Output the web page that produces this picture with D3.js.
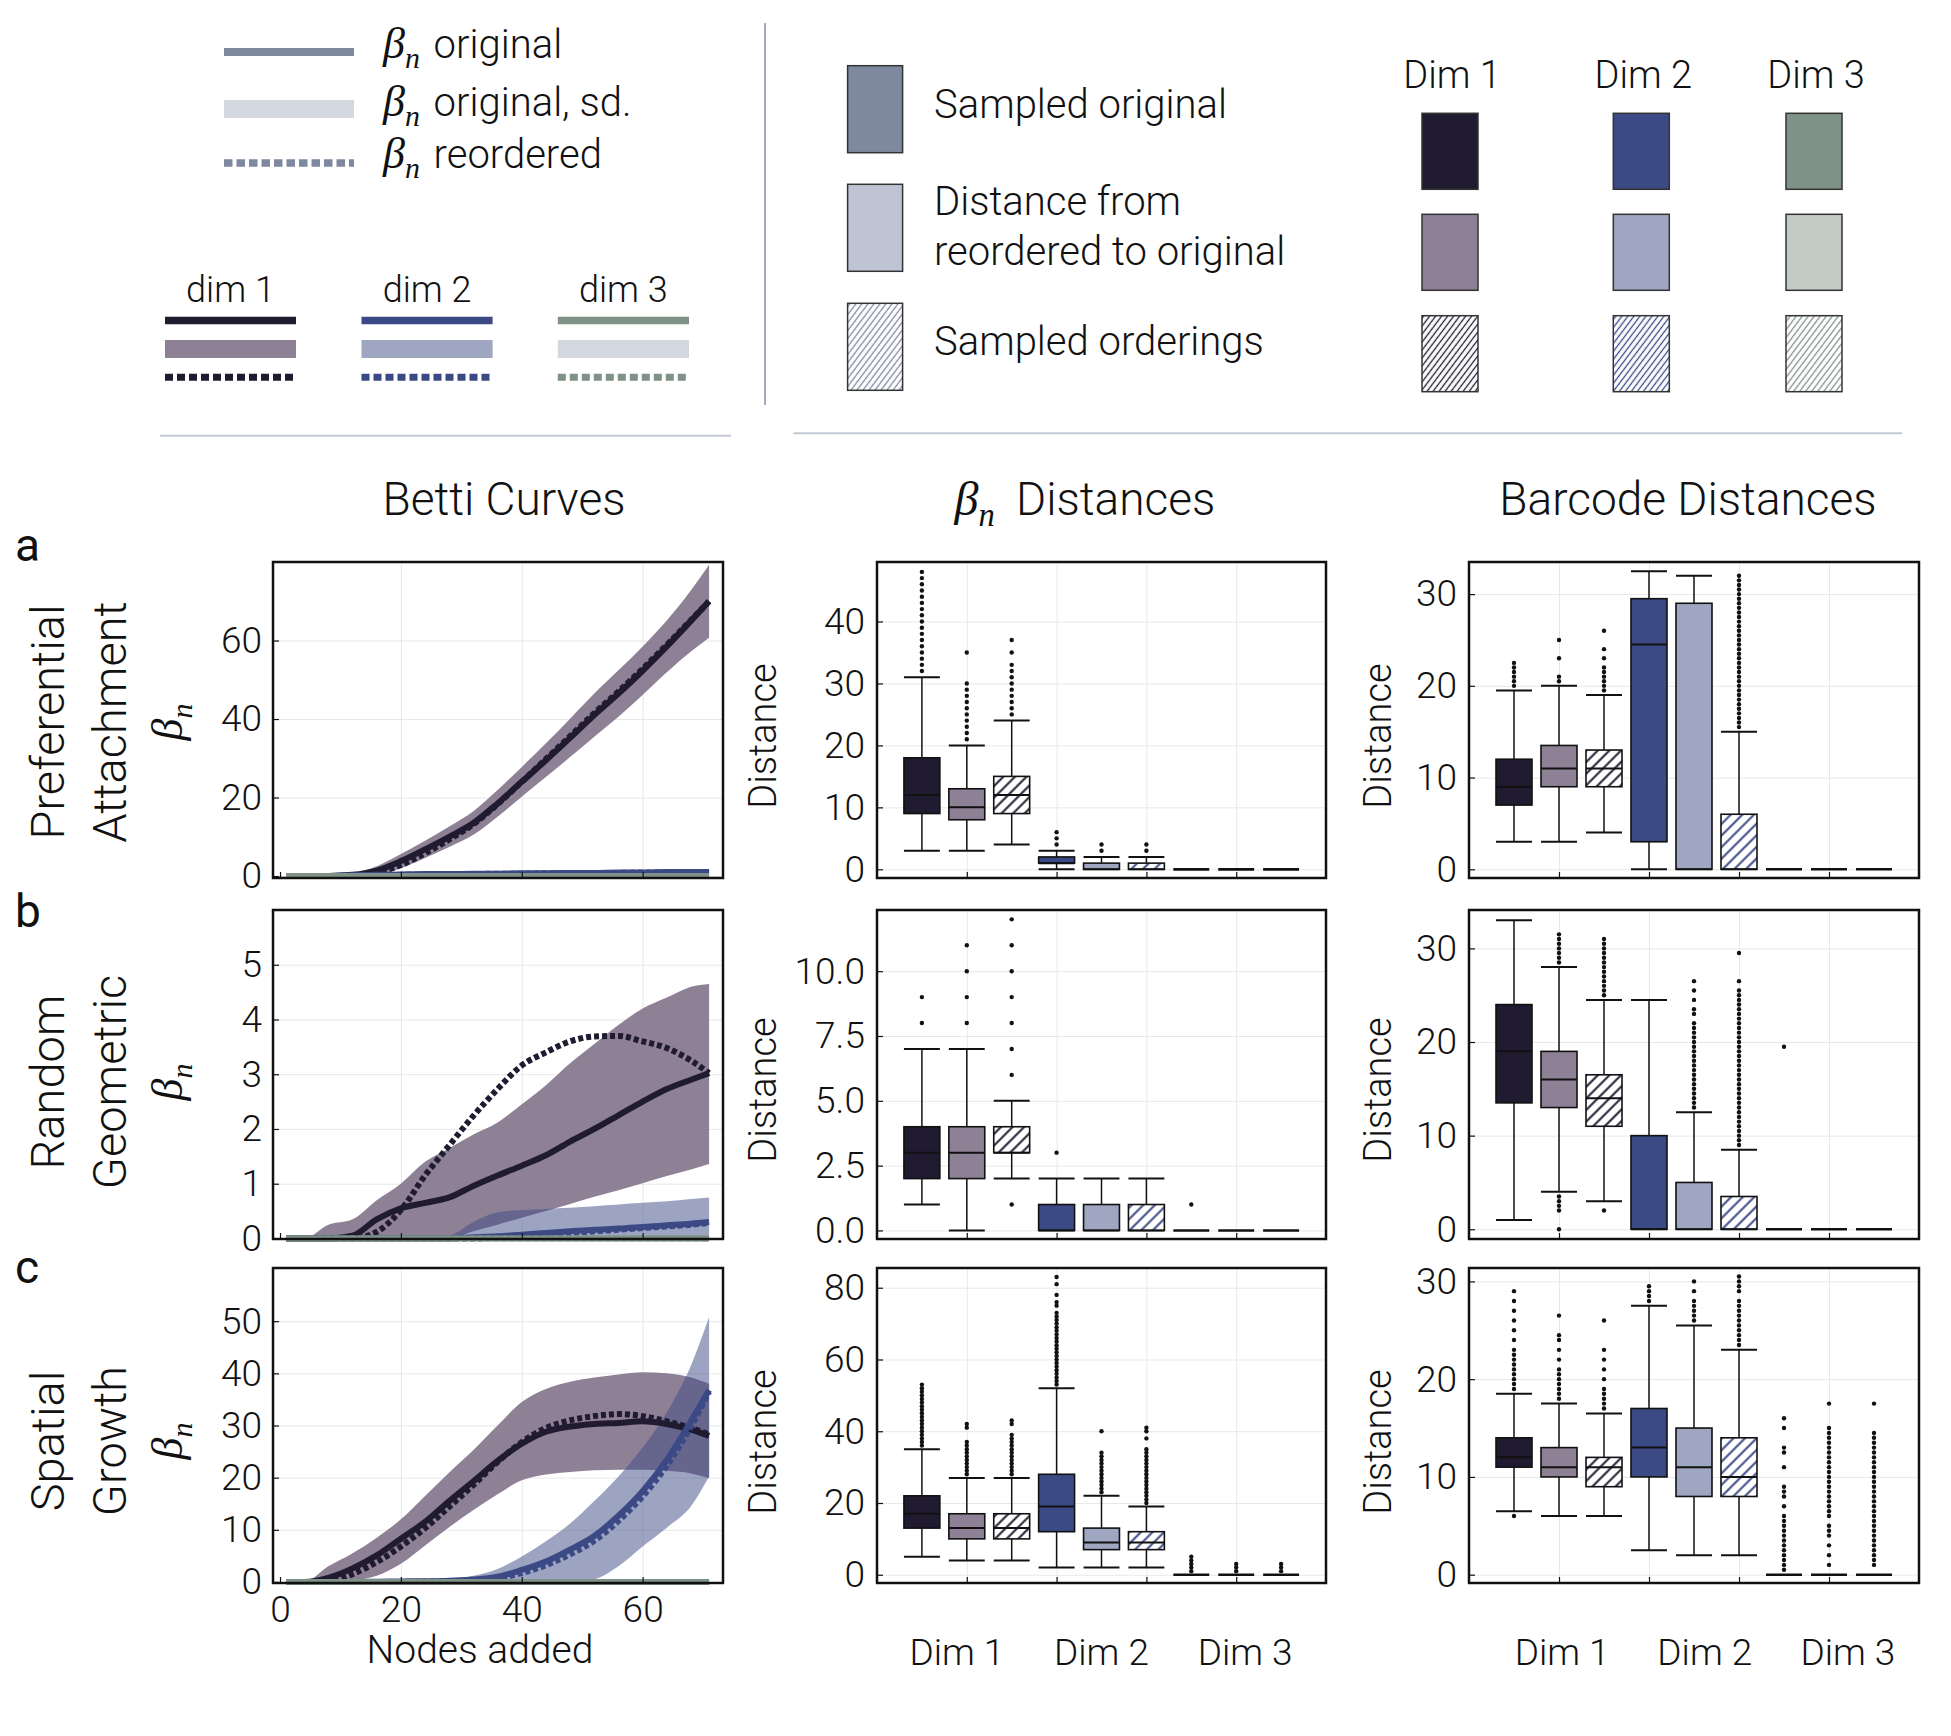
<!DOCTYPE html>
<html>
<head>
<meta charset="UTF-8">
<title>Betti curves and distances</title>
<style>
  body { margin: 0; background: #fff; }
  svg text { font-family: Roboto, 'Liberation Sans', sans-serif; font-weight: 300; fill: #111; }
  .math { font-family: 'Liberation Serif', 'DejaVu Serif', serif; font-style: italic; font-weight: 400; }
  .grid line { stroke: #e8e8e8; stroke-width: 1; }
  .grid .domain, .tick-axis .domain { display: none; }
  .tick-axis line { stroke: #111; stroke-width: 1.2; }
  .frame { fill: none; stroke: #111; stroke-width: 2.5; }
  svg text.letter { font-weight: 400; }
</style>
</head>
<body>
<script src="https://d3js.org/d3.v7.min.js"></script>
<script>
// colours per homology dimension
var dimDark  = ["#201b30", "#3b4a85", "#7f9287"];
var dimLight = ["#8e8196", "#9ea6c1", "#c3cbc6"];
var bandFill = ["#8e8196", "#3b4a85", "#c3cbc6"];
var bandOpacity = [1, 0.5, 0.8];
var sdLegend = ["#8e8196", "#9ea6c1", "#d3d7df"];
var greyBlue = "#7e889f";

var dimNames = ["dim 1", "dim 2", "dim 3"];
var dimTitles = ["Dim 1", "Dim 2", "Dim 3"];
var rowLetters = ["a", "b", "c"];
var rowNames = [["Preferential", "Attachment"], ["Random", "Geometric"], ["Spatial", "Growth"]];

/// Betti curves (x = nodes added)
var nodes = [1, 4, 8, 12, 16, 20, 24, 28, 32, 36, 40, 44, 48, 52, 56, 60, 64, 68, 71];
var zeroCurve = [0, 0, 0, 0, 0, 0, 0, 0, 0, 0, 0, 0, 0, 0, 0, 0, 0, 0, 0];

// a: preferential attachment
var a1Mean  = [0, 0, 0, 0.3, 1.4, 3.8, 6.8, 10, 13.5, 18.5, 24, 29.5, 35.2, 41, 46.5, 52.3, 58.5, 65, 70];
var a1Lo    = [0, 0, 0, 0, 0.3, 2, 4.6, 7.4, 10.5, 15.1, 20.2, 25.2, 30.3, 35.5, 40.6, 46.1, 51.9, 57.2, 60.7];
var a1Hi    = [0, 0, 0, 0.7, 2.5, 5.6, 9, 12.6, 16.5, 21.9, 27.8, 33.8, 40.1, 46.5, 52.4, 58.5, 65.1, 72.8, 79.3];
var a1Reord = [0, 0, 0, 0, 0.8, 2.8, 5.8, 9.3, 13.2, 18.3, 24, 29.8, 35.6, 41.5, 47, 52.8, 58.9, 65.2, 70];
var a2Mean  = [0, 0, 0, 0.2, 0.3, 0.4, 0.5, 0.5, 0.6, 0.6, 0.7, 0.7, 0.8, 0.8, 0.9, 0.9, 1.0, 1.0, 1.0];
var a2Lo    = [0, 0, 0, 0, 0, 0, 0, 0, 0.1, 0.1, 0.2, 0.2, 0.3, 0.3, 0.3, 0.4, 0.4, 0.4, 0.4];
var a2Hi    = [0, 0, 0, 0.5, 0.7, 0.8, 0.9, 1.0, 1.1, 1.1, 1.2, 1.2, 1.3, 1.3, 1.4, 1.4, 1.5, 1.5, 1.5];
var a2Reord = [0, 0, 0, 0.1, 0.2, 0.3, 0.4, 0.5, 0.5, 0.6, 0.6, 0.7, 0.7, 0.8, 0.8, 0.9, 0.9, 1.0, 1.0];

// b: random geometric
var b1Mean  = [0, 0, 0, 0.05, 0.35, 0.55, 0.65, 0.75, 0.96, 1.15, 1.33, 1.52, 1.77, 2.0, 2.25, 2.5, 2.73, 2.9, 3.02];
var b1Lo    = [0, 0, 0, 0, 0, 0, 0, 0, 0.13, 0.25, 0.38, 0.5, 0.63, 0.76, 0.88, 1.01, 1.14, 1.26, 1.36];
var b1Hi    = [0, 0, 0.25, 0.35, 0.7, 1.0, 1.4, 1.65, 1.9, 2.12, 2.45, 2.8, 3.2, 3.55, 3.9, 4.2, 4.4, 4.6, 4.65];
var b1Reord = [0, 0, 0, 0, 0.12, 0.52, 1.15, 1.7, 2.24, 2.73, 3.16, 3.4, 3.6, 3.69, 3.7, 3.6, 3.48, 3.25, 3.02];
var b2Mean  = [0, 0, 0, 0, 0, 0, 0, 0, 0.02, 0.04, 0.07, 0.1, 0.13, 0.16, 0.18, 0.21, 0.24, 0.27, 0.3];
var b2Hi    = [0, 0, 0, 0, 0, 0, 0, 0.05, 0.3, 0.48, 0.52, 0.54, 0.56, 0.59, 0.62, 0.65, 0.68, 0.72, 0.75];
var b2Reord = [0, 0, 0, 0, 0, 0, 0, 0, 0, 0.02, 0.04, 0.07, 0.1, 0.13, 0.16, 0.19, 0.22, 0.25, 0.28];

// c: spatial growth
var c1Mean  = [0, 0, 0.8, 2.6, 5.1, 8.3, 11.5, 15.5, 19.3, 23.2, 26.5, 28.8, 29.8, 30.3, 30.5, 30.8, 30.3, 29.2, 28];
var c1Lo    = [0, 0, 0, 0.3, 1.2, 3.5, 7, 10.5, 13.8, 16.8, 19.5, 20.6, 21.1, 21.4, 21.5, 21.5, 21.3, 20.8, 19.9];
var c1Hi    = [0, 0, 3.0, 5.5, 8.5, 12, 16.5, 21, 25.3, 30, 34.5, 37, 38.4, 39.2, 39.8, 40.2, 40, 39.2, 38];
var c1Reord = [0, 0, 0.1, 1.5, 3.8, 6.8, 10.3, 14.4, 18.6, 23, 26.8, 29.5, 31, 31.8, 32.2, 31.8, 30.8, 29.5, 28.3];
var c2Mean  = [0, 0, 0, 0, 0.05, 0.1, 0.15, 0.25, 0.45, 1.0, 2.3, 3.9, 6.2, 8.8, 12.7, 17.4, 23.4, 30.8, 36.8];
var c2Lo    = [0, 0, 0, 0, 0, 0, 0, 0, 0, 0, 0, 0, 0, 0.5, 3, 6.8, 10.4, 14.5, 20.2];
var c2Hi    = [0, 0, 0, 0, 0.1, 0.2, 0.3, 0.5, 1.2, 2.5, 4.9, 7.8, 11.2, 15.5, 20.2, 25.8, 32.5, 41.5, 50.8];
var c2Reord = [0, 0, 0, 0, 0, 0, 0.05, 0.15, 0.3, 0.7, 1.7, 3.2, 5.3, 7.9, 11.7, 16.4, 22.3, 29.8, 36.5];

var bettiYDomain = [[-0.5, 80], [-0.01, 6], [-0.2, 60.2]];
var bettiYTicks = [[0, 20, 40, 60], [0, 1, 2, 3, 4, 5], [0, 10, 20, 30, 40, 50]];
var bettiXTicks = [0, 20, 40, 60];
var nodeDomain = [-1.16, 73.3];

/// box plots: [lower whisker, q1, median, q3, upper whisker], 9 boxes (3 per dim)
var betaStatsA = [[3, 9, 12, 18, 31], [3, 8, 10, 13, 20], [4, 9, 12, 15, 24], [0, 1, 1, 2, 3], [0, 0, 0, 1, 2], [0, 0, 0, 1, 2], [0, 0, 0, 0, 0], [0, 0, 0, 0, 0], [0, 0, 0, 0, 0]];
var betaOutA = [
  [32, 33, 34, 35, 36, 37, 38, 39, 40, 41, 42, 43, 44, 45, 46, 47, 48],
  [21, 22, 23, 24, 25, 26, 27, 28, 29, 30, 35],
  [25, 26, 27, 28, 29, 30, 31, 32, 33, 35, 37],
  [4, 5, 6], [3, 4], [3, 4], [], [], []];
var betaStatsB = [[1, 2, 3, 4, 7], [0, 2, 3, 4, 7], [2, 3, 3, 4, 5], [0, 0, 0, 1, 2], [0, 0, 0, 1, 2], [0, 0, 0, 1, 2], [0, 0, 0, 0, 0], [0, 0, 0, 0, 0], [0, 0, 0, 0, 0]];
var betaOutB = [[8, 9], [8, 9, 10, 11], [1, 6, 7, 8, 9, 10, 11, 12], [3], [], [], [1], [], []];
var betaStatsC = [[5, 13, 17, 22, 35], [4, 10, 13, 17, 27], [4, 10, 13, 17, 27], [2, 12, 19, 28, 52], [2, 7, 9, 13, 22], [2, 7, 9, 12, 19], [0, 0, 0, 0, 0], [0, 0, 0, 0, 0], [0, 0, 0, 0, 0]];
var betaOutC = [
  [36, 37, 38, 39, 40, 41, 42, 43, 44, 45, 46, 47, 48, 49, 50, 51, 52, 53],
  [28, 29, 30, 31, 32, 33, 34, 35, 36, 37, 41, 42],
  [28, 29, 30, 31, 32, 33, 34, 35, 36, 37, 38, 39, 42, 43],
  [53, 54, 55, 56, 57, 58, 59, 60, 61, 62, 63, 64, 65, 66, 67, 68, 69, 70, 71, 72, 73, 75, 76, 78, 81, 83],
  [23, 24, 25, 26, 27, 28, 29, 30, 31, 32, 33, 34, 40],
  [20, 21, 22, 23, 24, 25, 26, 27, 28, 29, 30, 31, 32, 33, 34, 35, 38, 40, 41],
  [1, 2, 3, 4, 5], [1, 2, 3], [1, 2, 3]];

var barStatsA = [[3, 7, 9, 12, 19.5], [3, 9, 11, 13.5, 20], [4, 9, 11, 13, 19], [0, 3, 24.5, 29.5, 32.5], [0, 0, 0, 29, 32], [0, 0, 0, 6, 15], [0, 0, 0, 0, 0], [0, 0, 0, 0, 0], [0, 0, 0, 0, 0]];
var barOutA = [
  [20, 20.5, 21, 21.5, 22, 22.5],
  [20.5, 21, 23, 25],
  [19.5, 20, 20.5, 21, 21.5, 22, 23, 24, 26],
  [], [],
  [15.5, 16, 16.5, 17, 17.5, 18, 18.5, 19, 19.5, 20, 20.5, 21, 21.5, 22, 22.5, 23, 23.5, 24, 24.5, 25, 25.5, 26, 26.5, 27, 27.5, 28, 28.5, 29, 29.5, 30, 30.5, 31, 31.5, 32],
  [], [], []];
var barStatsB = [[1, 13.5, 19, 24, 33], [4, 13, 16, 19, 28], [3, 11, 14, 16.5, 24.5], [0, 0, 0, 10, 24.5], [0, 0, 0, 5, 12.5], [0, 0, 0, 3.5, 8.5], [0, 0, 0, 0, 0], [0, 0, 0, 0, 0], [0, 0, 0, 0, 0]];
var barOutB = [
  [],
  [28.5, 29, 29.5, 30, 30.5, 31, 31.5, 3.5, 3, 2.5, 2, 0],
  [25, 25.5, 26, 26.5, 27, 27.5, 28, 28.5, 29, 29.5, 30, 30.5, 31, 2],
  [],
  [13, 13.5, 14, 14.5, 15, 15.5, 16, 16.5, 17, 17.5, 18, 18.5, 19, 19.5, 20, 20.5, 21, 21.5, 22, 23, 23.5, 24.5, 25.5, 26.5],
  [9, 9.5, 10, 10.5, 11, 11.5, 12, 12.5, 13, 13.5, 14, 14.5, 15, 15.5, 16, 16.5, 17, 17.5, 18, 18.5, 19, 19.5, 20, 20.5, 21, 21.5, 22, 22.5, 23, 23.5, 24, 24.5, 25, 25.5, 26.5, 29.5],
  [19.5], [], []];
var barStatsC = [[6.5, 11, 12, 14, 18.5], [6, 10, 11, 13, 17.5], [6, 9, 11, 12, 16.5], [2.5, 10, 13, 17, 27.5], [2, 8, 11, 15, 25.5], [2, 8, 10, 14, 23], [0, 0, 0, 0, 0], [0, 0, 0, 0, 0], [0, 0, 0, 0, 0]];
var barOutC = [
  [19, 19.5, 20, 20.5, 21, 21.5, 22, 22.5, 23, 24, 25, 26, 27, 28, 29, 6],
  [18, 18.5, 19, 19.5, 20, 20.5, 21, 22, 23, 24, 24.5, 26.5],
  [17, 17.5, 18, 18.5, 19, 20, 21, 22, 23, 26],
  [28, 28.5, 29, 29.5],
  [26, 26.5, 27, 27.5, 28, 29, 30],
  [23.5, 24, 24.5, 25, 25.5, 26, 26.5, 27, 27.5, 28, 29, 29.5, 30, 30.5],
  [0.5, 1, 1.5, 2, 2.5, 3, 3.5, 4, 4.5, 5, 5.5, 6, 7, 8, 8.5, 9, 11, 12.5, 13, 15, 16],
  [1, 2, 3, 4, 4.5, 5, 6, 6.5, 7, 7.5, 8, 8.5, 9, 9.5, 10, 10.5, 11, 11.5, 12, 12.5, 13, 13.5, 14, 14.5, 15, 17.5],
  [1, 1.5, 2, 2.5, 3, 3.5, 4, 4.5, 5, 5.5, 6, 6.5, 7, 7.5, 8, 8.5, 9, 9.5, 10, 10.5, 11, 11.5, 12, 12.5, 13, 13.5, 14, 14.5, 17.5]];

var betaYDomain = [[-1.4, 49.6], [-0.33, 12.36], [-2.3, 85.5]];
var betaYTicks = [[0, 10, 20, 30, 40], [0, 2.5, 5, 7.5, 10], [0, 20, 40, 60, 80]];
var barYDomain = [[-0.95, 33.5], [-1.04, 34.1], [-0.85, 31.37]];
var barYTicks = [[0, 10, 20, 30], [0, 10, 20, 30], [0, 10, 20, 30]];
var boxGrid = [2, 4, 6, 8];
var boxWidth = 0.8;
var betaDimPos = [1.78, 5, 8.2];
var barDimPos = [2.07, 5.24, 8.42];

/// layout
var rowTop = [562, 910, 1268], rowBot = [878, 1239, 1583];
var colBetti = [273, 723], colBeta = [877, 1326], colBar = [1469, 1919];
var rowLabelY = [722, 1082, 1441], distLabelY = [736, 1090, 1442];
var tickSize = 37;

var svg = d3.select("body").append("svg").attr("width", 1951).attr("height", 1736);
var defs = svg.append("defs");

function addHatch(id, colour, size, angle, width) {
  var p = defs.append("pattern").attr("id", id)
    .attr("patternUnits", "userSpaceOnUse")
    .attr("width", size).attr("height", size)
    .attr("patternTransform", "rotate(" + angle + ")");
  p.append("rect").attr("width", size).attr("height", size).attr("fill", "#fff");
  p.append("line").attr("x1", size / 2).attr("x2", size / 2).attr("y1", 0).attr("y2", size)
    .attr("stroke", colour).attr("stroke-width", width);
}
dimDark.forEach(function(c, i) {
  addHatch("hatch" + i, c, 8.2, 45, 2);
  addHatch("lhatch" + i, c, 4.8, 37, 1.3);
});
addHatch("lhatchGrey", greyBlue, 4.8, 37, 1.3);

function hline(g, x1, x2, y, colour, width, dash) {
  var l = g.append("line").attr("x1", x1).attr("x2", x2).attr("y1", y).attr("y2", y)
    .attr("stroke", colour).attr("stroke-width", width);
  if (dash) l.attr("stroke-dasharray", dash);
  return l;
}

// beta_n as math italic with subscript
function betaText(sel, size, rest, gap) {
  sel.append("tspan").attr("class", "math").attr("font-size", size).text("β");
  sel.append("tspan").attr("class", "math").attr("font-size", size * 0.68).attr("dy", size * 0.22).text("n");
  if (rest) sel.append("tspan").attr("dy", -size * 0.22).attr("dx", gap).text(rest);
}

/// legend, left part
var legL = svg.append("g");
hline(legL, 224, 354, 52, greyBlue, 8);
hline(legL, 224, 354, 109, "#d4d8e1", 18);
hline(legL, 224, 354, 163, greyBlue, 7.5, "8.5,4");
[[58, " original"], [116, " original, sd."], [168, " reordered"]].forEach(function(t) {
  legL.append("text").attr("x", 383).attr("y", t[0]).attr("font-size", 40)
    .call(betaText, 44, t[1], 4);
});
var legX = [[165, 296], [361.5, 492.6], [557.8, 689]];
dimNames.forEach(function(n, i) {
  legL.append("text").attr("x", (legX[i][0] + legX[i][1]) / 2).attr("y", 302)
    .attr("text-anchor", "middle").attr("font-size", 36).text(n);
  hline(legL, legX[i][0], legX[i][1], 320.5, dimDark[i], 7.5);
  hline(legL, legX[i][0], legX[i][1], 349, sdLegend[i], 18);
  hline(legL, legX[i][0], legX[i][1], 377.3, dimDark[i], 7, "8,4");
});
legL.append("line").attr("x1", 765).attr("x2", 765).attr("y1", 23).attr("y2", 405)
  .attr("stroke", "#a3aabd").attr("stroke-width", 2);
hline(legL, 160, 731, 435.7, "#c3c8d6", 2);

/// legend, right part
var legR = svg.append("g");
var kindFill = [greyBlue, "#bec4d3", "url(#lhatchGrey)"];
[65.7, 184.3, 303.3].forEach(function(y, i) {
  legR.append("rect").attr("x", 847.6).attr("y", y).attr("width", 55).attr("height", 87)
    .attr("fill", kindFill[i]).attr("stroke", "#333").attr("stroke-width", 1.5);
});
[[118, "Sampled original"], [215, "Distance from"], [265, "reordered to original"], [355, "Sampled orderings"]].forEach(function(t) {
  legR.append("text").attr("x", 934).attr("y", t[0]).attr("font-size", 40).text(t[1]);
});
var sqX = [1422, 1613.3, 1786], sqY = [113.3, 214.3, 315.7];
dimTitles.forEach(function(n, i) {
  legR.append("text").attr("x", sqX[i] + 30).attr("y", 88).attr("text-anchor", "middle")
    .attr("font-size", 38).text(n);
  var fills = [dimDark[i], dimLight[i], "url(#lhatch" + i + ")"];
  sqY.forEach(function(y, k) {
    legR.append("rect").attr("x", sqX[i]).attr("y", y).attr("width", 56).attr("height", 76)
      .attr("fill", fills[k]).attr("stroke", "#333").attr("stroke-width", 1.5);
  });
});
hline(legR, 793.5, 1902, 433.3, "#c3c8d6", 2);

/// column titles
svg.append("text").attr("x", 504).attr("y", 515).attr("text-anchor", "middle").attr("font-size", 46).text("Betti Curves");
svg.append("text").attr("x", 1085).attr("y", 515).attr("text-anchor", "middle").attr("font-size", 46)
  .call(betaText, 48, " Distances", 10);
svg.append("text").attr("x", 1688).attr("y", 515).attr("text-anchor", "middle").attr("font-size", 46).text("Barcode Distances");

/// row labels
var letterY = [561, 927, 1283];
rowLetters.forEach(function(l, r) {
  svg.append("text").attr("class", "letter").attr("x", 15).attr("y", letterY[r]).attr("font-size", 46).text(l);
  svg.append("text").attr("transform", "translate(64," + rowLabelY[r] + ") rotate(-90)")
    .attr("text-anchor", "middle").attr("font-size", 47).text(rowNames[r][0]);
  svg.append("text").attr("transform", "translate(126," + rowLabelY[r] + ") rotate(-90)")
    .attr("text-anchor", "middle").attr("font-size", 47).text(rowNames[r][1]);
  svg.append("text").attr("transform", "translate(182," + rowLabelY[r] + ") rotate(-90)")
    .attr("text-anchor", "middle").call(betaText, 44);
});

/// Betti curve panels
function bettiPanel(r, curves) {
  var top = rowTop[r], bot = rowBot[r];
  var x = d3.scaleLinear().domain(nodeDomain).range(colBetti);
  var y = d3.scaleLinear().domain(bettiYDomain[r]).range([bot, top]);
  var g = svg.append("g");

  g.append("g").attr("class", "grid").attr("transform", "translate(0," + bot + ")")
    .call(d3.axisBottom(x).tickValues([20, 40, 60]).tickSize(-(bot - top)).tickFormat(""));
  g.append("g").attr("class", "grid").attr("transform", "translate(" + colBetti[0] + ",0)")
    .call(d3.axisLeft(y).tickValues(bettiYTicks[r]).tickSize(-(colBetti[1] - colBetti[0])).tickFormat(""));

  var area = d3.area()
    .x(function(d, i) { return x(nodes[i]); })
    .y0(function(d) { return y(d[0]); })
    .y1(function(d) { return y(d[1]); })
    .curve(d3.curveMonotoneX);
  curves.forEach(function(c, k) {
    g.append("path").datum(d3.zip(c.lo, c.hi)).attr("d", area)
      .attr("fill", bandFill[k]).attr("fill-opacity", bandOpacity[k]);
  });

  var line = d3.line()
    .x(function(d, i) { return x(nodes[i]); })
    .y(function(d) { return y(d); })
    .curve(d3.curveMonotoneX);
  curves.forEach(function(c, k) {
    g.append("path").datum(c.mean).attr("d", line).attr("fill", "none")
      .attr("stroke", dimDark[k]).attr("stroke-width", 6);
    g.append("path").datum(c.reord).attr("d", line).attr("fill", "none")
      .attr("stroke", dimDark[k]).attr("stroke-width", 6).attr("stroke-dasharray", "5,3");
  });

  g.append("rect").attr("class", "frame").attr("x", colBetti[0]).attr("y", top)
    .attr("width", colBetti[1] - colBetti[0]).attr("height", bot - top);

  g.append("g").attr("class", "tick-axis").attr("transform", "translate(" + colBetti[0] + ",0)")
    .call(d3.axisLeft(y).tickValues(bettiYTicks[r]).tickSize(-6).tickPadding(11).tickFormat(d3.format("d")))
    .attr("font-size", tickSize).attr("font-family", null);
  g.append("g").attr("class", "tick-axis").attr("transform", "translate(0," + bot + ")")
    .call(d3.axisBottom(x).tickValues(bettiXTicks).tickSize(-6).tickPadding(13)
      .tickFormat(r == 2 ? d3.format("d") : ""))
    .attr("font-size", tickSize).attr("font-family", null);

  if (r == 2) {
    svg.append("text").attr("x", 480).attr("y", 1663).attr("text-anchor", "middle")
      .attr("font-size", 39).text("Nodes added");
  }
}

var flatDim = { mean: zeroCurve, lo: zeroCurve, hi: zeroCurve, reord: zeroCurve };
bettiPanel(0, [
  { mean: a1Mean, lo: a1Lo, hi: a1Hi, reord: a1Reord },
  { mean: a2Mean, lo: a2Lo, hi: a2Hi, reord: a2Reord }, flatDim]);
bettiPanel(1, [
  { mean: b1Mean, lo: b1Lo, hi: b1Hi, reord: b1Reord },
  { mean: b2Mean, lo: zeroCurve, hi: b2Hi, reord: b2Reord }, flatDim]);
bettiPanel(2, [
  { mean: c1Mean, lo: c1Lo, hi: c1Hi, reord: c1Reord },
  { mean: c2Mean, lo: c2Lo, hi: c2Hi, reord: c2Reord }, flatDim]);

/// box plot panels
function boxPanel(r, cx, stats, outs, yDomain, yTicks, fmt, dimPos, labelX) {
  var top = rowTop[r], bot = rowBot[r];
  var x = d3.scaleLinear().domain([0, 10]).range(cx);
  var y = d3.scaleLinear().domain(yDomain).range([bot, top]);
  var g = svg.append("g");

  g.append("g").attr("class", "grid").attr("transform", "translate(0," + bot + ")")
    .call(d3.axisBottom(x).tickValues(boxGrid).tickSize(-(bot - top)).tickFormat(""));
  g.append("g").attr("class", "grid").attr("transform", "translate(" + cx[0] + ",0)")
    .call(d3.axisLeft(y).tickValues(yTicks).tickSize(-(cx[1] - cx[0])).tickFormat(""));

  var hw = (x(boxWidth) - x(0)) / 2;
  stats.forEach(function(s, i) {
    var dim = Math.floor(i / 3), kind = i % 3, xc = x(i + 1);
    var fill = kind == 0 ? dimDark[dim] : kind == 1 ? dimLight[dim] : "url(#hatch" + dim + ")";
    var b = g.append("g").attr("stroke", "#111");
    if (s[4] > s[3]) {
      b.append("line").attr("x1", xc).attr("x2", xc).attr("y1", y(s[3])).attr("y2", y(s[4])).attr("stroke-width", 1.5);
      b.append("line").attr("x1", xc - hw).attr("x2", xc + hw).attr("y1", y(s[4])).attr("y2", y(s[4])).attr("stroke-width", 2);
    }
    if (s[0] < s[1]) {
      b.append("line").attr("x1", xc).attr("x2", xc).attr("y1", y(s[1])).attr("y2", y(s[0])).attr("stroke-width", 1.5);
      b.append("line").attr("x1", xc - hw).attr("x2", xc + hw).attr("y1", y(s[0])).attr("y2", y(s[0])).attr("stroke-width", 2);
    }
    if (s[3] > s[1]) {
      b.append("rect").attr("x", xc - hw).attr("y", y(s[3])).attr("width", 2 * hw)
        .attr("height", y(s[1]) - y(s[3])).attr("fill", fill).attr("stroke-width", 1.6);
    }
    b.append("line").attr("x1", xc - hw).attr("x2", xc + hw).attr("y1", y(s[2])).attr("y2", y(s[2]))
      .attr("stroke-width", s[3] > s[1] ? 2 : 2.6);
    b.selectAll("circle").data(outs[i]).enter().append("circle")
      .attr("cx", xc).attr("cy", function(d) { return y(d); }).attr("r", 2.2)
      .attr("fill", "#111").attr("stroke", "none");
  });

  g.append("rect").attr("class", "frame").attr("x", cx[0]).attr("y", top)
    .attr("width", cx[1] - cx[0]).attr("height", bot - top);

  g.append("g").attr("class", "tick-axis").attr("transform", "translate(" + cx[0] + ",0)")
    .call(d3.axisLeft(y).tickValues(yTicks).tickSize(-6).tickPadding(12).tickFormat(fmt))
    .attr("font-size", tickSize).attr("font-family", null);
  g.append("g").attr("class", "tick-axis").attr("transform", "translate(0," + bot + ")")
    .call(d3.axisBottom(x).tickValues(boxGrid).tickSize(-6).tickFormat(""));

  svg.append("text").attr("transform", "translate(" + labelX + "," + distLabelY[r] + ") rotate(-90)")
    .attr("text-anchor", "middle").attr("font-size", 38).text("Distance");

  if (r == 2) {
    dimTitles.forEach(function(n, k) {
      svg.append("text").attr("x", x(dimPos[k])).attr("y", 1665).attr("text-anchor", "middle")
        .attr("font-size", 37).text(n);
    });
  }
}

var intFmt = d3.format("d"), decFmt = d3.format(".1f");
boxPanel(0, colBeta, betaStatsA, betaOutA, betaYDomain[0], betaYTicks[0], intFmt, betaDimPos, 776);
boxPanel(1, colBeta, betaStatsB, betaOutB, betaYDomain[1], betaYTicks[1], decFmt, betaDimPos, 776);
boxPanel(2, colBeta, betaStatsC, betaOutC, betaYDomain[2], betaYTicks[2], intFmt, betaDimPos, 776);
boxPanel(0, colBar, barStatsA, barOutA, barYDomain[0], barYTicks[0], intFmt, barDimPos, 1391);
boxPanel(1, colBar, barStatsB, barOutB, barYDomain[1], barYTicks[1], intFmt, barDimPos, 1391);
boxPanel(2, colBar, barStatsC, barOutC, barYDomain[2], barYTicks[2], intFmt, barDimPos, 1391);
</script>
</body>
</html>
